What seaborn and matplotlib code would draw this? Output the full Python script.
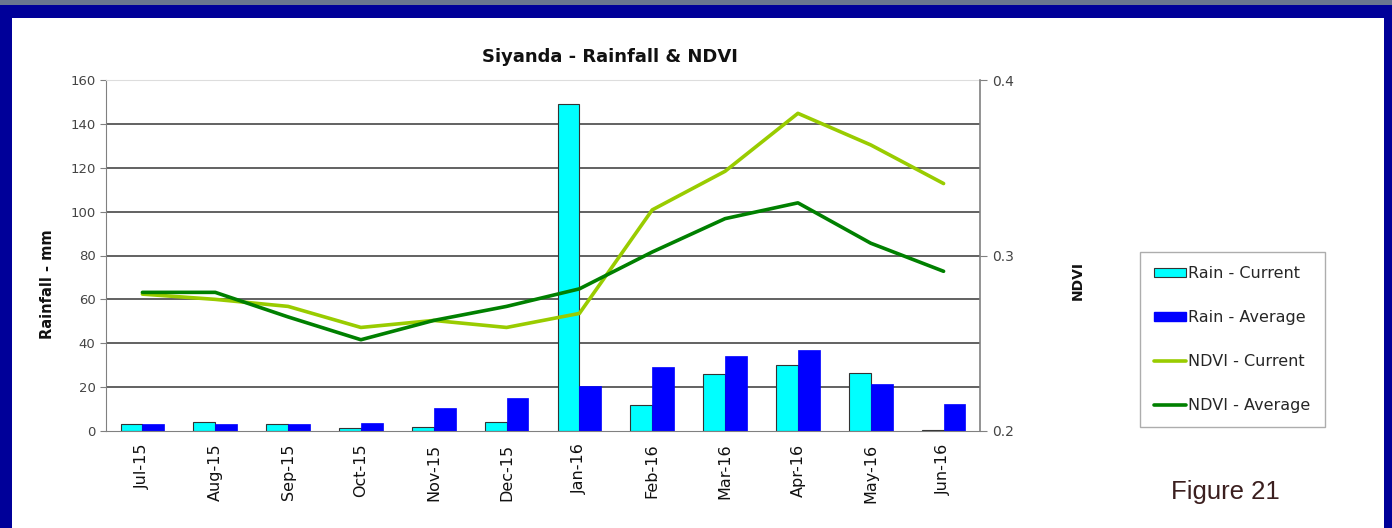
import numpy as np
import pandas as pd
import matplotlib
matplotlib.use('Agg')
import matplotlib.pyplot as plt
import matplotlib.patches as mpatches
import matplotlib.lines as mlines
import seaborn as sns

# Data
months = ['Jul-15', 'Aug-15', 'Sep-15', 'Oct-15', 'Nov-15', 'Dec-15',
          'Jan-16', 'Feb-16', 'Mar-16', 'Apr-16', 'May-16', 'Jun-16']
rain_current = [3, 4, 3, 1.5, 2, 4, 149, 12, 26, 30, 26.5, 0.5]
rain_average = [3, 3, 3, 3.5, 10.5, 15, 20.5, 29, 34, 37, 21.5, 12.5]
ndvi_current = [0.278, 0.275, 0.271, 0.259, 0.263, 0.259, 0.267,
                0.326, 0.348, 0.381, 0.363, 0.341]
ndvi_average = [0.279, 0.279, 0.265, 0.252, 0.263, 0.271, 0.281,
                0.302, 0.321, 0.330, 0.307, 0.291]

CYAN = '#00FFFF'
BLUE = '#0000FF'
LIGHT_GREEN = '#99CC00'
DARK_GREEN = '#008000'

sns.set_style('white')
plt.rcParams['font.family'] = ['DejaVu Sans']

rain = pd.DataFrame({
    'month': months * 2,
    'rain': rain_current + rain_average,
    'series': ['Rain - Current'] * len(months) + ['Rain - Average'] * len(months),
})

fig = plt.figure(figsize=(13.92, 5.28), dpi=100, facecolor='#000099')
# white slide panel and grey strip on top
fig.patches.append(mpatches.Rectangle((12 / 1392, 0), 1372 / 1392, 1 - 18 / 528,
                                      transform=fig.transFigure, facecolor='white',
                                      edgecolor='none', zorder=-5))
fig.patches.append(mpatches.Rectangle((0, 1 - 5 / 528), 1, 5 / 528,
                                      transform=fig.transFigure, facecolor='#6a7690',
                                      edgecolor='none', zorder=-5))

ax = fig.add_axes([106 / 1392, 1 - 431 / 528, 874 / 1392, 351 / 528])
ax.set_facecolor('none')
sns.barplot(data=rain, x='month', y='rain', hue='series', order=months,
            palette=[CYAN, BLUE], width=0.6, saturation=1, ax=ax, legend=False)
for p in ax.patches:
    if p.get_facecolor()[:3] == matplotlib.colors.to_rgb(CYAN):
        p.set_edgecolor('#333333')
        p.set_linewidth(0.8)
    else:
        p.set_edgecolor(BLUE)
        p.set_linewidth(0.5)

ax.set_ylim(0, 160)
ax.set_xlim(-0.5, len(months) - 0.5)
ax.set_yticks(range(0, 161, 20))
ax.tick_params(axis='y', labelsize=9.5, length=4, color='#808080', labelcolor='#444444')
ax.set_xticks(range(len(months)))
ax.set_xticklabels(months, rotation=90, fontsize=11.5)
ax.tick_params(axis='x', length=0, pad=9, labelcolor='#111111')
ax.set_xticks(np.arange(-0.5, len(months) + 0.5, 1), minor=True)
ax.tick_params(axis='x', which='minor', length=5, color='#808080')
ax.set_xlabel('')
ax.set_ylabel('')
for v in range(20, 160, 20):
    ax.axhline(v, color='#555555', lw=1.3, zorder=0)
ax.spines['top'].set_color('#dddddd')
ax.spines['left'].set_color('#808080')
ax.spines['bottom'].set_color('#808080')
ax.spines['right'].set_visible(False)

ax2 = ax.twinx()
x = np.arange(len(months))
sns.lineplot(x=x, y=ndvi_current, ax=ax2, color=LIGHT_GREEN, lw=2.6)
sns.lineplot(x=x, y=ndvi_average, ax=ax2, color=DARK_GREEN, lw=2.6)
ax2.set_ylim(0.2, 0.4)
ax2.set_yticks([0.2, 0.3, 0.4])
ax2.set_yticklabels(['0.2', '0.3', '0.4'])
ax2.tick_params(axis='y', labelsize=10, length=5, color='#808080', labelcolor='#444444')
ax2.spines['right'].set_color('#808080')
ax2.spines['right'].set_linewidth(1.2)
for s in ['top', 'left', 'bottom']:
    ax2.spines[s].set_visible(False)
ax2.set_ylabel('')

fig.text(610 / 1392, 1 - 57 / 528, 'Siyanda - Rainfall & NDVI', ha='center', va='center',
         fontsize=13, fontweight='bold', color='#111111')
fig.text(48 / 1392, 1 - 284 / 528, 'Rainfall - mm', rotation=90, ha='center', va='center',
         fontsize=10.5, fontweight='bold', color='#111111')
fig.text(1078 / 1392, 1 - 281 / 528, 'NDVI', rotation=90, ha='center', va='center',
         fontsize=10, fontweight='bold', color='#111111')
fig.text(1225 / 1392, 1 - 492 / 528, 'Figure 21', ha='center', va='center',
         fontsize=18.5, color='#3b1f1f', family='Liberation Sans')

handles = [
    mpatches.Patch(facecolor=CYAN, edgecolor='#333333', lw=0.8),
    mpatches.Patch(facecolor=BLUE, edgecolor=BLUE),
    mlines.Line2D([], [], color=LIGHT_GREEN, lw=2.6),
    mlines.Line2D([], [], color=DARK_GREEN, lw=2.6),
]
labels = ['Rain - Current', 'Rain - Average', 'NDVI - Current', 'NDVI - Average']
leg = fig.legend(handles, labels, loc='upper left',
                 bbox_to_anchor=(1140 / 1392, 1 - 252 / 528), fontsize=11.5,
                 frameon=True, fancybox=False, edgecolor='#999999',
                 handlelength=2.0, handleheight=0.5, handletextpad=0.1,
                 labelspacing=1.8, borderpad=0.9, borderaxespad=0)
leg.get_frame().set_linewidth(1.0)

fig.savefig('out.png', dpi=100, facecolor=fig.get_facecolor())
